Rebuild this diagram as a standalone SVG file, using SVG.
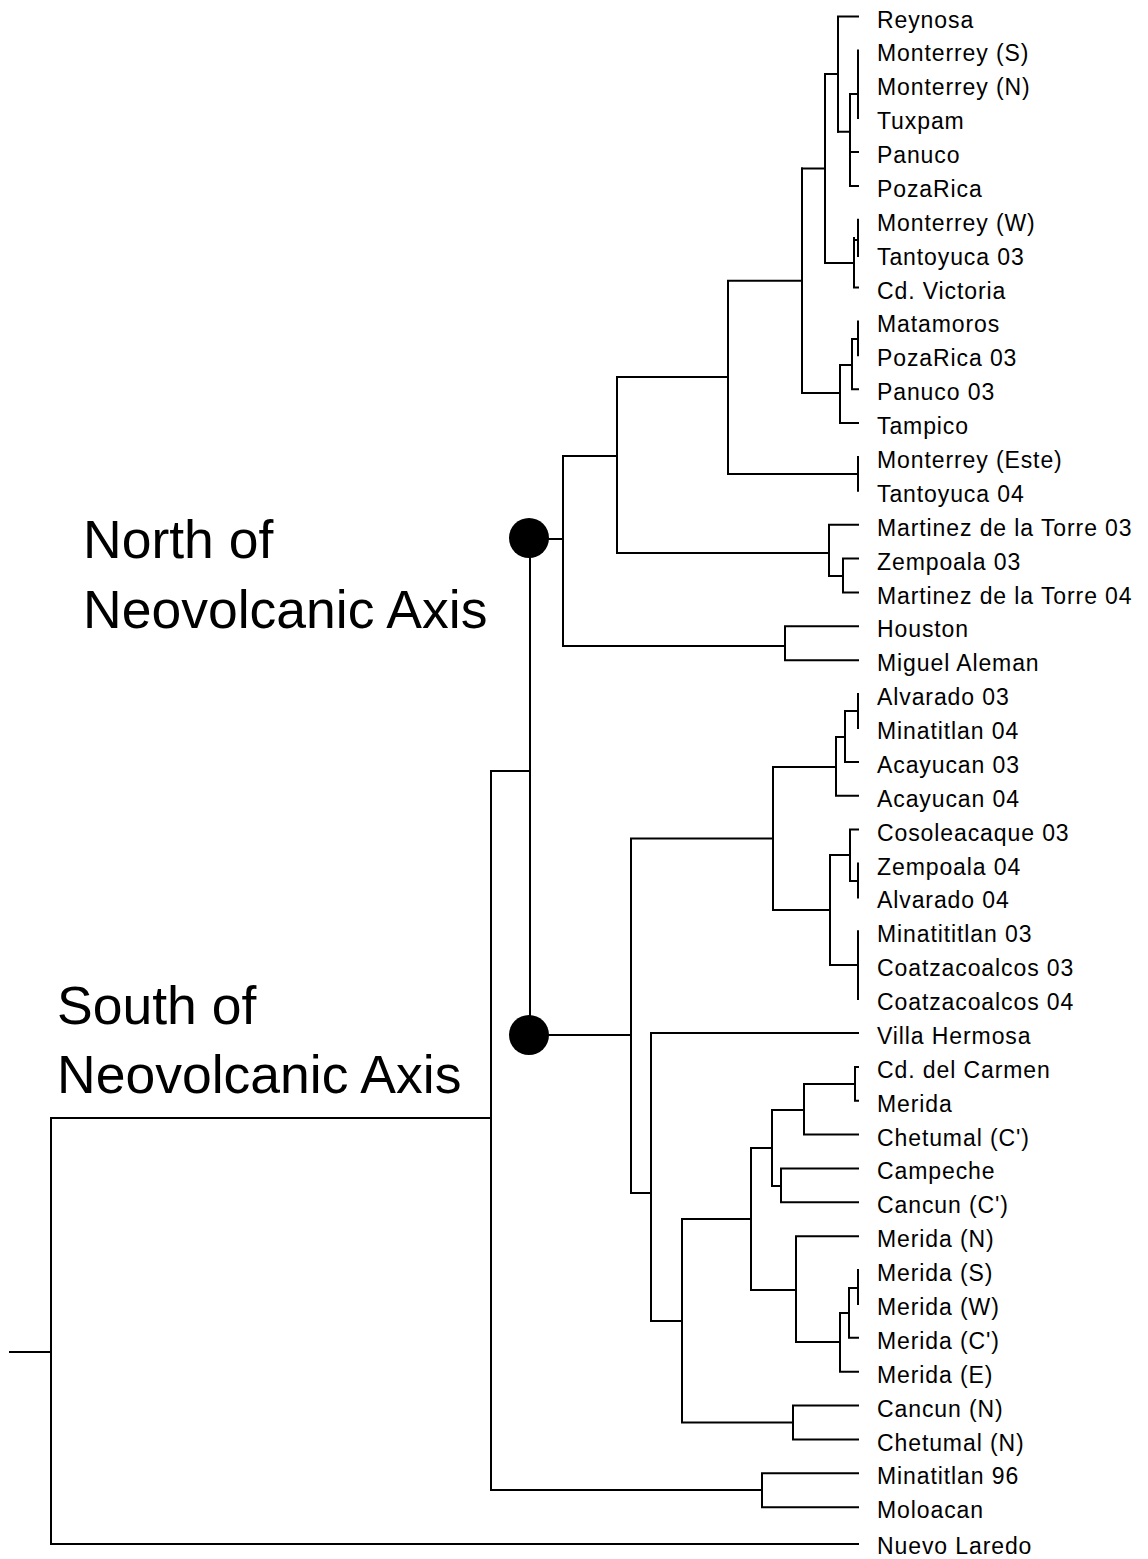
<svg xmlns="http://www.w3.org/2000/svg" width="1148" height="1559" viewBox="0 0 1148 1559">
<style>
.e{fill:none;stroke:#000;stroke-width:2;stroke-linecap:square;stroke-linejoin:miter}
.l{font-family:"Liberation Sans",Arial,sans-serif;font-size:23px;letter-spacing:0.9px;fill:#000}
.r{font-family:"Liberation Sans",Arial,sans-serif;font-size:53.5px;fill:#000}
.dot{fill:#000}
</style>
<rect width="1148" height="1559" fill="#fff"/>
<g id="connectors" class="e">
<path d="M838,16.5H858M838,16.5V131.7M825,74H838"/>
<path d="M838,131.7H850M850,94V185.9H858M850,94H858M858,50.4V118.1M850,152H858"/>
<path d="M825,74V263H854M854,238V287.5H858M854,240H858M858,219.8V256"/>
<path d="M802,168.5H825"/>
<path d="M802,168.5V393H840M840,365V423.1H858M840,365H852M852,339V389.2H858M852,339H858M858,321.4V355.3"/>
<path d="M728,280.7H802M728,280.7V474H858M858,456.9V490.8"/>
<path d="M617,377H728M617,377V553H829M829,524.7V576M829,524.7H858M829,576H843M843,558.6V592.5M843,558.6H858M843,592.5H858"/>
<path d="M563,456H617M563,456V646H785M785,626.3V660.2M785,626.3H858M785,660.2H858"/>
<path d="M549,539H563"/>
<path d="M530,538V1035M491,771H530"/>
<path d="M549,1035H631M631,838.5V1193H651M631,838.5H773"/>
<path d="M773,767V910H830M773,767H836"/>
<path d="M836,737V795.7H858M836,737H845M845,711V761.9H858M845,711H858M858,694.1V728"/>
<path d="M830,855V965.1H858M830,855H850M850,829.6V881H858M850,829.6H858M858,863.5V897.4M858,931.3V999"/>
<path d="M651,1032.9V1321H682M651,1032.9H858"/>
<path d="M682,1219V1422.5H793M682,1219H751M793,1405.6V1439.5H858M793,1405.6H858"/>
<path d="M751,1148V1290H796M751,1148H772"/>
<path d="M772,1110V1186H781M772,1110H804M781,1168.4V1202.3H858M781,1168.4H858"/>
<path d="M804,1084V1134.5H858M804,1084H855M855,1067V1100.7H858M855,1067H858"/>
<path d="M796,1236.2V1342H840M796,1236.2H858M840,1313V1371.7H858M840,1313H849M849,1288V1337.8H858M849,1288H858M858,1270.1V1303.9"/>
<path d="M491,1490H762M762,1473.3V1507.2H858M762,1473.3H858"/>
<path d="M491,771V1490M51,1118H491M51,1118V1544H858M10,1352H51"/>
</g>
<g id="north-node"><circle class="dot" cx="529" cy="538" r="20"/></g>
<g id="south-node"><circle class="dot" cx="529" cy="1035" r="20"/></g>
<g id="north-label"><text class="r" x="83" y="558">North of</text><text class="r" x="83" y="628">Neovolcanic Axis</text></g>
<g id="south-label"><text class="r" x="57" y="1024">South of</text><text class="r" x="57" y="1093">Neovolcanic Axis</text></g>
<g id="leaves" class="l">
<g id="n0"><text x="877" y="27.5">Reynosa</text></g>
<g id="n1"><text x="877" y="61.4">Monterrey (S)</text></g>
<g id="n2"><text x="877" y="95.3">Monterrey (N)</text></g>
<g id="n3"><text x="877" y="129.1">Tuxpam</text></g>
<g id="n4"><text x="877" y="163">Panuco</text></g>
<g id="n5"><text x="877" y="196.9">PozaRica</text></g>
<g id="n6"><text x="877" y="230.8">Monterrey (W)</text></g>
<g id="n7"><text x="877" y="264.7">Tantoyuca 03</text></g>
<g id="n8"><text x="877" y="298.5">Cd. Victoria</text></g>
<g id="n9"><text x="877" y="332.4">Matamoros</text></g>
<g id="n10"><text x="877" y="366.3">PozaRica 03</text></g>
<g id="n11"><text x="877" y="400.2">Panuco 03</text></g>
<g id="n12"><text x="877" y="434.1">Tampico</text></g>
<g id="n13"><text x="877" y="467.9">Monterrey (Este)</text></g>
<g id="n14"><text x="877" y="501.8">Tantoyuca 04</text></g>
<g id="n15"><text x="877" y="535.7">Martinez de la Torre 03</text></g>
<g id="n16"><text x="877" y="569.6">Zempoala 03</text></g>
<g id="n17"><text x="877" y="603.5">Martinez de la Torre 04</text></g>
<g id="n18"><text x="877" y="637.3">Houston</text></g>
<g id="n19"><text x="877" y="671.2">Miguel Aleman</text></g>
<g id="n20"><text x="877" y="705.1">Alvarado 03</text></g>
<g id="n21"><text x="877" y="739">Minatitlan 04</text></g>
<g id="n22"><text x="877" y="772.9">Acayucan 03</text></g>
<g id="n23"><text x="877" y="806.7">Acayucan 04</text></g>
<g id="n24"><text x="877" y="840.6">Cosoleacaque 03</text></g>
<g id="n25"><text x="877" y="874.5">Zempoala 04</text></g>
<g id="n26"><text x="877" y="908.4">Alvarado 04</text></g>
<g id="n27"><text x="877" y="942.3">Minatititlan 03</text></g>
<g id="n28"><text x="877" y="976.1">Coatzacoalcos 03</text></g>
<g id="n29"><text x="877" y="1010">Coatzacoalcos 04</text></g>
<g id="n30"><text x="877" y="1043.9">Villa Hermosa</text></g>
<g id="n31"><text x="877" y="1077.8">Cd. del Carmen</text></g>
<g id="n32"><text x="877" y="1111.7">Merida</text></g>
<g id="n33"><text x="877" y="1145.5">Chetumal (C')</text></g>
<g id="n34"><text x="877" y="1179.4">Campeche</text></g>
<g id="n35"><text x="877" y="1213.3">Cancun (C')</text></g>
<g id="n36"><text x="877" y="1247.2">Merida (N)</text></g>
<g id="n37"><text x="877" y="1281.1">Merida (S)</text></g>
<g id="n38"><text x="877" y="1314.9">Merida (W)</text></g>
<g id="n39"><text x="877" y="1348.8">Merida (C')</text></g>
<g id="n40"><text x="877" y="1382.7">Merida (E)</text></g>
<g id="n41"><text x="877" y="1416.6">Cancun (N)</text></g>
<g id="n42"><text x="877" y="1450.5">Chetumal (N)</text></g>
<g id="n43"><text x="877" y="1484.3">Minatitlan 96</text></g>
<g id="n44"><text x="877" y="1518.2">Moloacan</text></g>
<g id="n45"><text x="877" y="1554">Nuevo Laredo</text></g>
</g>
</svg>
